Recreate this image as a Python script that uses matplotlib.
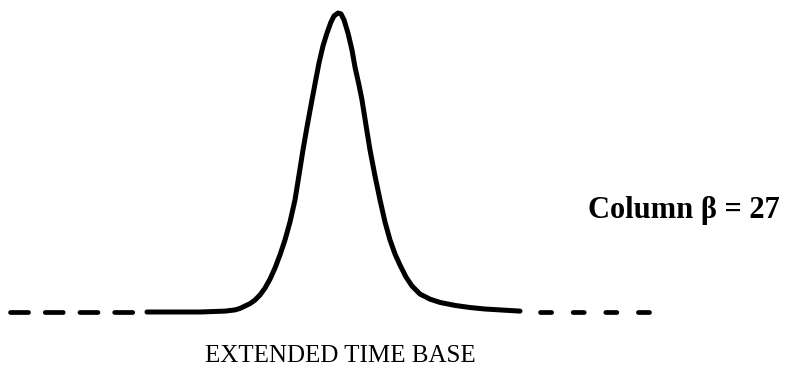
import numpy as np
import matplotlib.pyplot as plt

plt.rcParams['lines.scale_dashes'] = False

# peak trace, time in arbitrary units, signal as % of peak height
time = [147, 200, 225, 235, 240, 245, 250, 255, 260, 265, 270, 275, 280, 285,
        290, 295, 299, 303, 307, 311, 315, 319, 323, 327, 331, 334, 338,
        341, 344, 348, 352, 355, 359, 362, 366, 370, 375, 380, 385, 390, 395,
        400, 406, 412, 420, 430, 440, 455, 470, 485, 500, 520]
signal = [0, 0, 0.3, 0.7, 1.2, 2.0, 2.8, 4.0, 5.7, 8.0, 11.0, 14.7, 19.1, 24.1,
          30.1, 37.5, 45.8, 54.2, 61.9, 69.2, 76.3, 83.3, 89.0, 93.3, 97.0, 99.0, 100,
          99.7, 97.7, 93.3, 87.6, 81.9, 75.9, 70.9, 62.5, 54.2, 45.5, 37.5, 30.1, 24.1, 19.4,
          15.7, 11.7, 8.7, 6.0, 4.3, 3.2, 2.2, 1.5, 1.0, 0.7, 0.3]

# dashed baseline either side of the trace
base_left = [10, 140]
base_right = [540, 652]
base_level = 0

column_label = "Column \u03b2 = 27"
axis_label = "EXTENDED TIME BASE"

fig = plt.figure(figsize=(7.91, 3.75), dpi=100)
ax = fig.add_axes([0, 0, 1, 1])
ax.set_xlim(0, 791)
ax.set_ylim(-21.07, 104.35)
ax.axis('off')

ax.plot(time, signal, color='black', lw=3.6, solid_joinstyle='round',
        solid_capstyle='round')

l1, = ax.plot(base_left, [base_level, base_level], color='black', lw=3.4,
              dash_capstyle='round')
l1.set_dashes((13, 12))
l2, = ax.plot(base_right, [base_level, base_level], color='black', lw=3.4,
              dash_capstyle='round')
l2.set_dashes((8, 15.5))

ax.text(588, 34, column_label, fontsize=22, fontweight='bold',
        family='Liberation Serif', ha='left', va='center')
ax.text(340, -14.7, axis_label, fontsize=18, family='Liberation Serif',
        ha='center', va='center')

fig.savefig('out.png', dpi=100)
